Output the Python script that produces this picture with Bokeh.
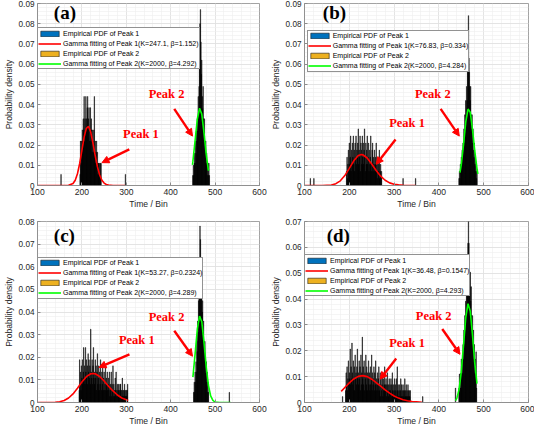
from bokeh.plotting import figure
from bokeh.layouts import gridplot
from bokeh.models import (Range1d, FixedTicker, Legend, LegendItem, Label, Arrow,
                          NormalHead, NumeralTickFormatter)
from bokeh.embed import file_html
from bokeh.resources import INLINE

# ---------------- data ----------------
X_TICKS = [100, 200, 300, 400, 500, 600]

# panel (a)
A_P1_START = 196
A_P1_H = [.0055, .022, .011, .022, .0165, .0275, .022, .033, .0275, .044,
          .022, .033, .0275, .044, .033, .0275, .0385, .044, .0275, .033,
          .0385, .022, .0275, .0385, .022, .033, .0275, .0165, .0275, .022,
          .0165, .0275, .044, .0165, .022, .011, .0165, .022, .011, .0165,
          .0055, .011, .011, .0055, .011, .0055, .011, .011]
A_P1_ISO_X = [153, 298]
A_P1_ISO_H = [.0055, .0055]
A_P2_START = 450
A_P2_H = [.005, .01, .005, .011, .016, .011, .022, .016, .027, .022,
          .033, .027, .044, .038, .049, .06, .08, .087, .071, .055,
          .062, .044, .038, .049, .033, .027, .033, .022, .016, .022,
          .011, .016, .011, .005, .011, .005, .011, .005]
A_P2_ISO_X = []
A_P2_ISO_H = []
A_RED_X = [100, 160, 170, 180, 185, 190, 195, 200, 205, 210, 215, 220, 225, 230,
           235, 240, 245, 250, 255, 260, 270, 297]
A_RED_Y = [0, 0, .0001, .001, .0026, .0058, .0109, .0174, .0239, .0283, .0292, .0263,
           .0209, .0147, .0092, .0052, .0026, .0012, .0005, .0002, 0, 0]
A_GRN_X = [449, 450, 455, 460, 465, 470, 475, 480, 485]
A_GRN_Y = [.0102, .0119, .0223, .0329, .0382, .0353, .026, .0154, .0073]
A_Y_TICKS = [0, .01, .02, .03, .04, .05, .06, .07, .08, .09]
A_LABELS = ["Empirical PDF of Peak 1", "Gamma fitting of Peak 1(K=247.1, \u03b2=1.152)",
            "Empirical PDF of Peak 2", "Gamma fitting of Peak 2(K=2000, \u03b2=4.292)"]

# panel (b)
B_P1_START = 194
B_P1_H = [.007, .014, .0035, .0105, .0175, .007, .021, .0105, .014, .0245,
          .007, .0175, .0105, .021, .014, .0245, .0105, .0175, .007, .021,
          .014, .0245, .0105, .0175, .014, .021, .028, .0105, .0175, .014,
          .0245, .007, .021, .0175, .0105, .0245, .014, .021, .0105, .0175,
          .028, .014, .007, .021, .0105, .0175, .0245, .0105, .014, .021,
          .007, .0175, .0105, .014, .0245, .007, .0105, .0175, .021, .007,
          .014, .0105, .0175, .007, .0105, .014, .021, .007, .0105, .0035,
          .014, .007, .0105, .0175, .0035, .007, .0105, .0035, .007]
B_P1_ISO_X = [113, 121, 320, 348]
B_P1_ISO_H = [.0035, .0035, .0035, .0035]
B_P2_START = 445
B_P2_H = [.0035, .007, .0035, .0105, .007, .014, .0105, .0175, .014, .021,
          .0175, .028, .021, .035, .028, .042, .035, .049, .042, .056,
          .07, .084, .063, .056, .049, .042, .049, .035, .028, .035,
          .021, .028, .0175, .014, .021, .0105, .014, .007, .0105, .0035, .007]
B_P2_ISO_X = []
B_P2_ISO_H = []
B_RED_X = [100, 140, 150, 160, 170, 180, 190, 200, 210, 220, 227, 230, 240, 250,
           260, 270, 280, 290, 300, 310, 320, 330, 348]
B_RED_Y = [0, 0, .0001, .0002, .0009, .0023, .0049, .0085, .0122, .0148, .0153, .0152,
           .0136, .0106, .0074, .0046, .0026, .0013, .0006, .0003, .0001, 0, 0]
B_GRN_X = [447, 450, 455, 460, 465, 470, 475, 480, 485, 487]
B_GRN_Y = [.0064, .0104, .0203, .0315, .0378, .0362, .0277, .0172, .0085, .0058]
B_Y_TICKS = [0, .01, .02, .03, .04, .05, .06, .07, .08, .09]
B_LABELS = ["Empirical PDF of Peak 1", "Gamma fitting of Peak 1(K=76.83, \u03b2=0.334)",
            "Empirical PDF of Peak 2", "Gamma fitting of Peak 2(K=2000, \u03b2=4.284)"]

# panel (c)
C_P1_START = 194
C_P1_H = [.0054, .0189, .0081, .0135, .0054, .0162, .0108, .0189, .0081, .0135,
          .0243, .0108, .0162, .0081, .0243, .0135, .0189, .0108, .0162, .0081,
          .0216, .0135, .0189, .0108, .0162, .0081, .0324, .0135, .0108, .0189,
          .0081, .0162, .0243, .0108, .0135, .0081, .0189, .0108, .0162, .0054,
          .0135, .0216, .0081, .0108, .0162, .0054, .0135, .0081, .0189, .0108,
          .0054, .0135, .0081, .0162, .0054, .0108, .0135, .0054, .0081, .0162,
          .0054, .0108, .0081, .0135, .0054, .0081, .0108, .0054, .0135, .0027,
          .0081, .0054, .0135, .0027, .0081, .0054, .0162, .0027, .0081, .0054,
          .0027, .0108, .0054, .0135, .0027, .0054, .0081, .0027, .0054, .0081,
          .0027, .0054, .0081, .0081, .0054, .0027, .0054, .0108, .0027, .0054,
          .0027, .0054, .0081, .0027, .0054, .0027, .0054, .0027, .0054, .0081]
C_P1_ISO_X = []
C_P1_ISO_H = []
C_P2_START = 452
C_P2_H = [.0045, .009, .0045, .0135, .009, .018, .0135, .027, .0225, .036,
          .031, .045, .054, .063, .078, .072, .058, .049, .054, .04,
          .045, .031, .036, .027, .022, .027, .018, .013, .018, .009,
          .0135, .0045, .009, .0045]
C_P2_ISO_X = [532]
C_P2_ISO_H = [.0045]
C_RED_X = [100, 130, 140, 150, 160, 170, 180, 190, 200, 210, 220, 225, 230, 240, 250,
           260, 270, 280, 290, 300, 304]
C_RED_Y = [0, 0, .0001, .0003, .0009, .002, .0038, .0063, .0091, .0114, .0127, .0128,
           .0127, .0115, .0095, .0072, .0051, .0033, .002, .0012, .0009]
C_GRN_X = [450, 455, 460, 465, 470, 475, 480, 485, 490, 495, 500, 510, 535]
C_GRN_Y = [.0112, .0215, .0325, .0382, .0357, .0265, .0158, .0076, .0029, .0009, .0002, 0, 0]
C_Y_TICKS = [0, .01, .02, .03, .04, .05, .06, .07, .08]
C_LABELS = ["Empirical PDF of Peak 1", "Gamma fitting of Peak 1(K=53.27, \u03b2=0.2324)",
            "Empirical PDF of Peak 2", "Gamma fitting of Peak 2(K=2000, \u03b2=4.289)"]

# panel (d)
D_P1_START = 192
D_P1_H = [.0046, .0115, .0069, .0138, .0046, .0092, .0161, .0069, .0115, .0092,
          .0207, .0069, .0138, .0092, .023, .0115, .0069, .0161, .0092, .0138,
          .0046, .0184, .0092, .0115, .0069, .0138, .0207, .0092, .0115, .0069,
          .0161, .0092, .0138, .0046, .0184, .0069, .0115, .0253, .0092, .0138,
          .0069, .0161, .0046, .0115, .0092, .0184, .0069, .0138, .0046, .0115,
          .0092, .0161, .0069, .0115, .0046, .0138, .0069, .0092, .0184, .0046,
          .0115, .0069, .0092, .0138, .0046, .0115, .0069, .0161, .0046, .0092,
          .0069, .0115, .0046, .0092, .0138, .0046, .0069, .0115, .0023, .0092,
          .0046, .0069, .0115, .0023, .0092, .0046, .0069, .0138, .0046, .0069,
          .0092, .0023, .0069, .0115, .0046, .0069, .0023, .0092, .0046, .0069,
          .0046, .0092, .0023, .0069, .0115, .0046, .0023, .0069, .0046, .0092,
          .0023, .0069, .0046, .0092, .0023, .0138, .0046, .0069, .0023, .0046,
          .0069, .0023, .0046, .0092, .0023, .0069, .0046, .0023, .0069, .0046,
          .0023, .0046, .0092, .0023, .0046, .0069, .0023, .0046, .0023, .0069,
          .0046, .0023, .0046, .0023, .0046]
D_P1_ISO_X = [185, 364]
D_P1_ISO_H = [.0023, .0023]
D_P2_START = 445
D_P2_H = [.0056, .011, .0056, .0112, .0056, .0168, .0112, .0168, .0112, .0224,
          .0168, .028, .0224, .0336, .028, .0392, .0336, .0448, .0504, .056,
          .0616, .07, .0616, .0504, .0448, .0504, .0392, .0448, .0336, .028,
          .0336, .0224, .028, .0168, .0224, .0112, .0168, .0112, .0196, .0056]
D_P2_ISO_X = [437]
D_P2_ISO_H = [.0056]
D_RED_X = [182, 190, 200, 210, 220, 230, 240, 250, 260, 270, 280, 290, 300, 310, 320,
           330, 340, 350, 362]
D_RED_Y = [.0043, .0058, .0076, .0091, .0101, .0104, .01, .009, .0077, .0063, .0049,
           .0036, .0025, .0017, .0011, .0007, .0004, .0003, .0001]
D_GRN_X = [437, 440, 445, 450, 455, 460, 465, 470, 475, 480, 485]
D_GRN_Y = [.0007, .0016, .005, .0119, .0223, .0329, .0382, .0353, .026, .0154, .0073]
D_Y_TICKS = [0, .01, .02, .03, .04, .05, .06, .07]
D_LABELS = ["Empirical PDF of Peak 1", "Gamma fitting of Peak 1(K=36.48, \u03b2=0.1547)",
            "Empirical PDF of Peak 2", "Gamma fitting of Peak 2(K=2000, \u03b2=4.293)"]

# ---------------- styling / layout ----------------
SANS = "Liberation Sans"
SERIF = "Liberation Serif"
RED = "#ff0000"
GREEN = "#00ff00"


def bins(start, heights, iso_x, iso_h):
    xs = [start + i for i in range(len(heights))] + list(iso_x)
    return xs, list(heights) + list(iso_h)


def panel(letter, p1, p2, red, grn, yticks, labels, lay, ann):
    W, H, bl, br, bt, bb = lay
    ymax = yticks[-1]
    p = figure(width=W, height=H, x_range=Range1d(100, 600), y_range=Range1d(0, ymax),
               output_backend="svg", toolbar_location=None,
               min_border_left=bl, min_border_right=br, min_border_top=bt,
               min_border_bottom=bb)
    p.background_fill_color = "white"
    p.border_fill_color = "white"
    p.outline_line_color = "#8c8c8c"
    p.outline_line_width = 0.8

    step = (yticks[1] - yticks[0]) / 5
    p.xaxis.ticker = FixedTicker(ticks=X_TICKS,
                                 minor_ticks=[100 + 20 * i for i in range(26)])
    p.yaxis.ticker = FixedTicker(ticks=yticks,
                                 minor_ticks=[step * i for i in range(len(yticks) * 5)])
    p.yaxis.formatter = NumeralTickFormatter(format="0.[00]")
    for ax in (p.xaxis, p.yaxis):
        ax.major_label_text_font = SANS
        ax.major_label_text_font_size = "8.2px"
        ax.major_label_text_color = "#262626"
        ax.axis_label_text_font = SANS
        ax.axis_label_text_font_size = "8.6px"
        ax.axis_label_text_font_style = "normal"
        ax.axis_label_text_color = "#262626"
        ax.axis_line_color = "#8c8c8c"
        ax.axis_line_width = 0.8
        ax.major_tick_in = 3
        ax.major_tick_out = 0
        ax.minor_tick_in = 0
        ax.minor_tick_out = 0
        ax.major_tick_line_color = "#8c8c8c"
        ax.major_label_standoff = 3
        ax.axis_label_standoff = 2
    p.xaxis.major_label_text_font_size = "8.6px"
    p.xaxis.axis_label = "Time / Bin"
    p.yaxis.axis_label = "Probability density"
    p.xaxis.axis_label_standoff = 1

    for g in (p.xgrid, p.ygrid):
        g.grid_line_color = "#dcdcdc"
        g.grid_line_width = 0.7
        g.minor_grid_line_color = "#eeeeee"
        g.minor_grid_line_width = 0.6

    x1, h1 = bins(*p1)
    x2, h2 = bins(*p2)
    # legend swatches (histogram face colours); hidden in the plot area
    d_blue = p.vbar(x=x1, top=h1, bottom=0, width=1, fill_color="#0072BD",
                    line_color="#1a1a1a", line_width=0.6, visible=False)
    d_org = p.vbar(x=x2, top=h2, bottom=0, width=1, fill_color="#EDB120",
                   line_color="#1a1a1a", line_width=0.6, visible=False)
    p.vbar(x=x1, top=h1, bottom=0, width=1, fill_color="black", line_color="black",
           line_width=0.45)
    p.vbar(x=x2, top=h2, bottom=0, width=1, fill_color="black", line_color="black",
           line_width=0.45)

    r_red = p.line(red[0], red[1], line_color=RED, line_width=1.6)
    r_grn = p.line(grn[0], grn[1], line_color=GREEN, line_width=1.6)

    fh = H - bt - bb
    leg_h = 40
    lx, ltop = ann["legend"]
    legend = Legend(items=[LegendItem(label=labels[0], renderers=[d_blue]),
                           LegendItem(label=labels[1], renderers=[r_red]),
                           LegendItem(label=labels[2], renderers=[d_org]),
                           LegendItem(label=labels[3], renderers=[r_grn])],
                    location=(lx, fh - ltop - leg_h),
                    label_text_font=SANS, label_text_font_size="7px",
                    label_text_color="black",
                    glyph_width=23, glyph_height=7, label_height=10, label_standoff=2,
                    spacing=0, padding=0, margin=0,
                    border_line_color="#262626", border_line_width=0.6,
                    background_fill_color="white", background_fill_alpha=1,
                    inactive_fill_alpha=0)
    p.add_layout(legend)

    lxp, lyp = ann["letter"]
    p.add_layout(Label(x=lxp, y=lyp, text=letter, text_font=SERIF, text_font_size="19px",
                       text_font_style="bold", text_color="black"))
    for txt, (tx, ty), (xs, ys, xe, ye) in ann["peaks"]:
        p.add_layout(Label(x=tx, y=ty, text=txt, text_font=SERIF, text_font_size="12.5px",
                           text_font_style="bold", text_color=RED))
        p.add_layout(Arrow(x_start=xs, y_start=ys, x_end=xe, y_end=ye, line_color=RED,
                           line_width=2.4,
                           end=NormalHead(size=7, fill_color=RED, line_color=RED,
                                          line_width=1)))
    return p


pa = panel("(a)", (A_P1_START, A_P1_H, A_P1_ISO_X, A_P1_ISO_H),
           (A_P2_START, A_P2_H, A_P2_ISO_X, A_P2_ISO_H),
           (A_RED_X, A_RED_Y), (A_GRN_X, A_GRN_Y), A_Y_TICKS, A_LABELS,
           (267, 212, 28, 8, 3, 27),
           {"legend": (0, 26.3), "letter": (136.8, 0.0802),
            "peaks": [("Peak 1", (292.6, 0.0221), (306.7, 0.01785, 245.2, 0.0113)),
                      ("Peak 2", (350.4, 0.04166), (408, 0.0379, 449.1, 0.02444))]})
pb = panel("(b)", (B_P1_START, B_P1_H, B_P1_ISO_X, B_P1_ISO_H),
           (B_P2_START, B_P2_H, B_P2_ISO_X, B_P2_ISO_H),
           (B_RED_X, B_RED_Y), (B_GRN_X, B_GRN_Y), B_Y_TICKS, B_LABELS,
           (267, 212, 29, 6, 3, 27),
           {"legend": (2.7, 28.5), "letter": (141, 0.0802),
            "peaks": [("Peak 1", (289, 0.0274), (303.3, 0.02277, 260.1, 0.01048)),
                      ("Peak 2", (346.4, 0.04166), (403.9, 0.0379, 445.5, 0.02444))]})
pc = panel("(c)", (C_P1_START, C_P1_H, C_P1_ISO_X, C_P1_ISO_H),
           (C_P2_START, C_P2_H, C_P2_ISO_X, C_P2_ISO_H),
           (C_RED_X, C_RED_Y), (C_GRN_X, C_GRN_Y), C_Y_TICKS, C_LABELS,
           (267, 216, 28, 8, 9, 23),
           {"legend": (0, 40.5), "letter": (136.8, 0.0691),
            "peaks": [("Peak 1", (283.3, 0.02448), (307.1, 0.0213, 238.5, 0.01552)),
                      ("Peak 2", (350.4, 0.03465), (408, 0.03174, 449.1, 0.02043))]})
pd_ = panel("(d)", (D_P1_START, D_P1_H, D_P1_ISO_X, D_P1_ISO_H),
            (D_P2_START, D_P2_H, D_P2_ISO_X, D_P2_ISO_H),
            (D_RED_X, D_RED_Y), (D_GRN_X, D_GRN_Y), D_Y_TICKS, D_LABELS,
            (267, 216, 29, 6, 9, 23),
            {"legend": (0, 38), "letter": (149.6, 0.0605),
             "peaks": [("Peak 1", (289, 0.02043), (304.7, 0.017, 268.8, 0.00902)),
                       ("Peak 2", (348.5, 0.03093), (407.5, 0.02842, 447.0, 0.01864))]})

grid = gridplot([[pa, pb], [pc, pd_]], toolbar_location=None)
open("out.html", "w").write(file_html(grid, INLINE))
